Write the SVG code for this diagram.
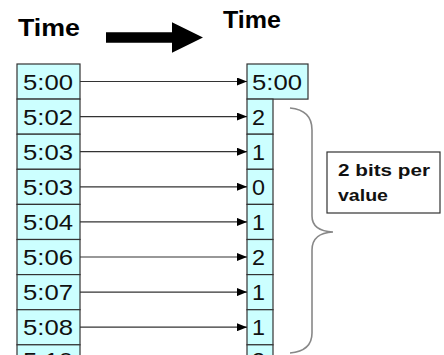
<svg xmlns="http://www.w3.org/2000/svg" width="444" height="355" viewBox="0 0 444 355">
<style>
.cell{fill:#ccffff;stroke:#333;stroke-width:1.2}
.num{font-family:"Liberation Sans",Arial,sans-serif;font-size:22px;fill:#111}
.title{font-family:"Liberation Sans",Arial,sans-serif;font-size:24px;font-weight:bold;fill:#000}
.lbl{font-family:"Liberation Sans",Arial,sans-serif;font-size:17px;font-weight:bold;fill:#111}
.conn{stroke:#333;stroke-width:1.2;fill:none;marker-end:url(#ah)}
</style>
<defs>
<marker id="ah" markerUnits="userSpaceOnUse" markerWidth="10" markerHeight="8" refX="10" refY="4" orient="auto">
<path d="M0,0 L10,4 L0,8 Z" fill="#000"/>
</marker>
</defs>
<rect width="444" height="355" fill="#fff"/>
<g id="titles">
<text class="title" x="18" y="36" textLength="62" lengthAdjust="spacingAndGlyphs">Time</text>
<text class="title" x="223" y="28" textLength="58" lengthAdjust="spacingAndGlyphs">Time</text>
<polygon points="106,32.3 172,32.3 172,22.3 203,37.5 172,52.7 172,42.7 106,42.7" fill="#000"/>
</g>
<g id="left">
<rect class="cell" x="17" y="64" width="63" height="35.1"/>
<rect class="cell" x="17" y="99.1" width="63" height="35.1"/>
<rect class="cell" x="17" y="134.2" width="63" height="35.1"/>
<rect class="cell" x="17" y="169.3" width="63" height="35.1"/>
<rect class="cell" x="17" y="204.4" width="63" height="35.1"/>
<rect class="cell" x="17" y="239.5" width="63" height="35.1"/>
<rect class="cell" x="17" y="274.6" width="63" height="35.1"/>
<rect class="cell" x="17" y="309.7" width="63" height="35.1"/>
<rect class="cell" x="17" y="344.8" width="63" height="35.1"/>
<text class="num" x="23" y="89.5" textLength="50" lengthAdjust="spacingAndGlyphs">5:00</text>
<text class="num" x="23" y="124.6" textLength="50" lengthAdjust="spacingAndGlyphs">5:02</text>
<text class="num" x="23" y="159.7" textLength="50" lengthAdjust="spacingAndGlyphs">5:03</text>
<text class="num" x="23" y="194.8" textLength="50" lengthAdjust="spacingAndGlyphs">5:03</text>
<text class="num" x="23" y="229.9" textLength="50" lengthAdjust="spacingAndGlyphs">5:04</text>
<text class="num" x="23" y="265" textLength="50" lengthAdjust="spacingAndGlyphs">5:06</text>
<text class="num" x="23" y="300.1" textLength="50" lengthAdjust="spacingAndGlyphs">5:07</text>
<text class="num" x="23" y="335.2" textLength="50" lengthAdjust="spacingAndGlyphs">5:08</text>
<text class="num" x="23" y="368" textLength="50" lengthAdjust="spacingAndGlyphs">5:10</text>
</g>
<g id="right">
<rect class="cell" x="247" y="64" width="61" height="35.1"/>
<rect class="cell" x="247" y="99.1" width="26" height="35.1"/>
<rect class="cell" x="247" y="134.2" width="26" height="35.1"/>
<rect class="cell" x="247" y="169.3" width="26" height="35.1"/>
<rect class="cell" x="247" y="204.4" width="26" height="35.1"/>
<rect class="cell" x="247" y="239.5" width="26" height="35.1"/>
<rect class="cell" x="247" y="274.6" width="26" height="35.1"/>
<rect class="cell" x="247" y="309.7" width="26" height="35.1"/>
<rect class="cell" x="247" y="344.8" width="26" height="35.1"/>
<text class="num" x="252" y="89.5" textLength="50" lengthAdjust="spacingAndGlyphs">5:00</text>
<text class="num" x="252" y="124.6" textLength="13" lengthAdjust="spacingAndGlyphs">2</text>
<text class="num" x="252" y="159.7" textLength="13" lengthAdjust="spacingAndGlyphs">1</text>
<text class="num" x="252" y="194.8" textLength="13" lengthAdjust="spacingAndGlyphs">0</text>
<text class="num" x="252" y="229.9" textLength="13" lengthAdjust="spacingAndGlyphs">1</text>
<text class="num" x="252" y="265" textLength="13" lengthAdjust="spacingAndGlyphs">2</text>
<text class="num" x="252" y="300.1" textLength="13" lengthAdjust="spacingAndGlyphs">1</text>
<text class="num" x="252" y="335.2" textLength="13" lengthAdjust="spacingAndGlyphs">1</text>
<text class="num" x="252" y="368" textLength="13" lengthAdjust="spacingAndGlyphs">2</text>
</g>
<g id="connectors">
<line class="conn" x1="80" y1="81.5" x2="247" y2="81.5"/>
<line class="conn" x1="80" y1="116.6" x2="247" y2="116.6"/>
<line class="conn" x1="80" y1="151.7" x2="247" y2="151.7"/>
<line class="conn" x1="80" y1="186.8" x2="247" y2="186.8"/>
<line class="conn" x1="80" y1="221.9" x2="247" y2="221.9"/>
<line class="conn" x1="80" y1="257" x2="247" y2="257"/>
<line class="conn" x1="80" y1="292.1" x2="247" y2="292.1"/>
<line class="conn" x1="80" y1="327.2" x2="247" y2="327.2"/>
</g>
<g id="brace">
<path d="M290,108 Q312,110 312,130 L312,216 Q312,231 333,232 Q312,233 312,250 L312,333 Q312,351 290,353" fill="none" stroke="#888" stroke-width="1.6"/>
</g>
<g id="note">
<rect x="327" y="152" width="113" height="61" fill="#fff" stroke="#333" stroke-width="1.2"/>
<text class="lbl" x="338" y="175.5" textLength="92" lengthAdjust="spacingAndGlyphs">2 bits per</text>
<text class="lbl" x="338" y="200.5" textLength="50" lengthAdjust="spacingAndGlyphs">value</text>
</g>
</svg>
